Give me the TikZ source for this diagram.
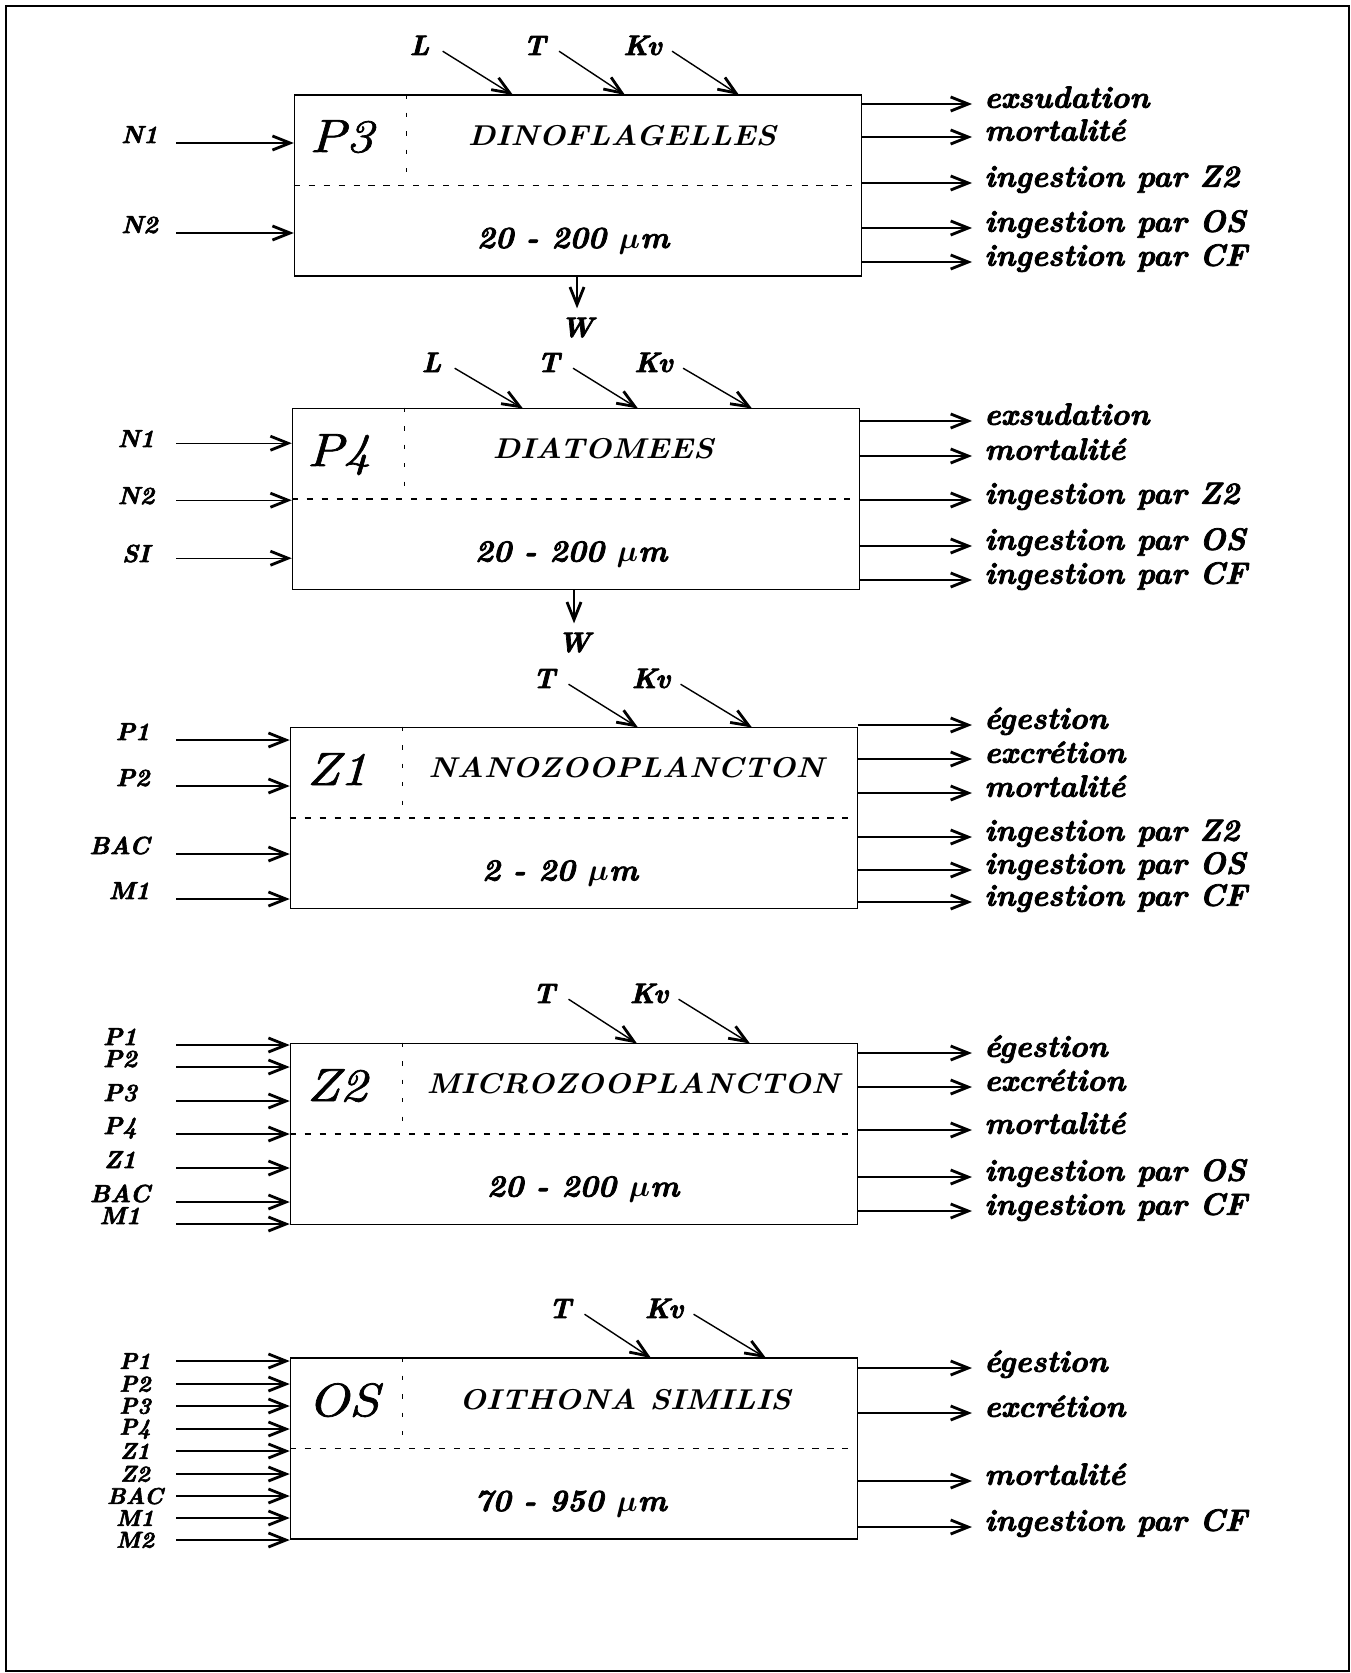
\documentclass[tikz,border=0pt]{standalone}
\usepackage{fontspec}
\usetikzlibrary{arrows.meta}
\newfontfamily\namefont[FakeStretch=1.15,FakeBold=1.5]{lmroman10-italic.otf}
\newfontfamily\groupfont[FakeStretch=1.1]{lmroman10-bolditalic.otf}
\newfontfamily\labfont[FakeBold=2.5]{lmroman10-bolditalic.otf}
\newcommand{\um}{{\boldmath$\mu$}m}

\begin{document}
\begin{tikzpicture}[
    x=0.02cm, y=-0.02cm,
    >={Straight Barb[length=10pt,width=8pt,line width=1.6pt]},
    box/.style={draw, line width=0.9pt, minimum width=11.34cm, minimum height=3.62cm, inner sep=0pt},
    midline/.style={line width=0.6pt, dash pattern=on 3.5pt off 5pt},
    colline/.style={line width=0.6pt, dash pattern=on 2.5pt off 8pt},
    flow/.style={->, line width=0.8pt},
    outflow/.style={->, line width=0.8pt, shorten >=0.24cm},
    bigname/.style={anchor=base, inner sep=0pt, font=\namefont\fontsize{26.5}{30}\selectfont},
    group/.style={anchor=base, inner sep=0pt, font=\groupfont\fontsize{16.3}{19}\selectfont},
    sizelab/.style={anchor=base, inner sep=0pt, font=\labfont\fontsize{17.5}{20}\selectfont},
    inlab/.style={anchor=base, inner sep=0pt, font=\labfont\fontsize{14}{16}\selectfont},
    toplab/.style={anchor=base, inner sep=0pt, font=\labfont\fontsize{16}{18}\selectfont},
    outlab/.style={anchor=mid west, inner sep=0pt, font=\labfont\fontsize{17.5}{20}\selectfont}
]
\useasboundingbox (0,0) rectangle (1351,1673);
\draw[line width=1.1pt] (6,6) rectangle (1349,1671);

% P3 : dinoflagelles
\node[box] (p3) at (578,185.5) {};
\draw[midline] (p3.west) -- (p3.east);
\draw[colline] ([xshift=2.25cm]p3.north west) -- ([xshift=2.25cm]p3.west);
\node[bigname] (p3name) at (341.5,152) {P3};
\node[group] (p3group) at (622,145) {DINOFLAGELLES};
\node[sizelab] (p3size) at (573,248) {20 - 200 \um};

\coordinate (p3in) at (176,0);
\node[inlab] (p3n1) at (139.5,143) {N1};
\draw[flow] (p3n1.base -| p3in) -- (p3n1.base -| p3.west);
\node[inlab] (p3n2) at (139.5,233) {N2};
\draw[flow] (p3n2.base -| p3in) -- (p3n2.base -| p3.west);

\node[toplab] (p3L) at (419.5,55) {L};
\coordinate (p3Lend) at (513,95);
\draw[flow] ([xshift=0.26cm]p3L.mid east) -- (p3Lend);
\node[toplab] (p3T) at (534.5,55) {T};
\coordinate (p3Tend) at (625,95);
\draw[flow] ([xshift=0.26cm]p3T.mid east) -- (p3Tend);
\node[toplab] (p3K) at (642.5,55) {Kv};
\coordinate (p3Kend) at (739,95);
\draw[flow] ([xshift=0.2cm]p3K.mid east) -- (p3Kend);

\node[outlab] (p3o1) at (984,104) {exsudation};
\draw[outflow] (p3o1.mid west -| p3.east) -- (p3o1.mid west);
\node[outlab] (p3o2) at (984,137) {mortalité};
\draw[outflow] (p3o2.mid west -| p3.east) -- (p3o2.mid west);
\node[outlab] (p3o3) at (984,183) {ingestion par Z2};
\draw[outflow] (p3o3.mid west -| p3.east) -- (p3o3.mid west);
\node[outlab] (p3o4) at (984,228) {ingestion par OS};
\draw[outflow] (p3o4.mid west -| p3.east) -- (p3o4.mid west);
\node[outlab] (p3o5) at (984,262) {ingestion par CF};
\draw[outflow] (p3o5.mid west -| p3.east) -- (p3o5.mid west);

\node[toplab] (p3w) at (577,337) {W};
\draw[flow, shorten >=0.18cm] (p3.south -| p3w) -- (p3w.north);

% P4 : diatomees
\node[box] (p4) at (576,499) {};
\draw[midline] (p4.west) -- (p4.east);
\draw[colline] ([xshift=2.25cm]p4.north west) -- ([xshift=2.25cm]p4.west);
\node[bigname] (p4name) at (339,466) {P4};
\node[group] (p4group) at (603,458.5) {DIATOMEES};
\node[sizelab] (p4size) at (571,561.5) {20 - 200 \um};

\coordinate (p4in) at (176,0);
\node[inlab] (p4n1) at (136,447) {N1};
\draw[flow] (p4n1.mid -| p4in) -- (p4n1.mid -| p4.west);
\node[inlab] (p4n2) at (136,504) {N2};
\draw[flow] (p4n2.mid -| p4in) -- (p4n2.mid -| p4.west);
\node[inlab] (p4n3) at (136,562) {SI};
\draw[flow] (p4n3.mid -| p4in) -- (p4n3.mid -| p4.west);

\node[toplab] (p4L) at (431.5,372) {L};
\coordinate (p4Lend) at (523,408.5);
\draw[flow] ([xshift=0.26cm]p4L.mid east) -- (p4Lend);
\node[toplab] (p4T) at (548.5,372) {T};
\coordinate (p4Tend) at (638,408.5);
\draw[flow] ([xshift=0.26cm]p4T.mid east) -- (p4Tend);
\node[toplab] (p4K) at (653.5,372) {Kv};
\coordinate (p4Kend) at (752,408.5);
\draw[flow] ([xshift=0.2cm]p4K.mid east) -- (p4Kend);

\node[outlab] (p4o1) at (984,421) {exsudation};
\draw[outflow] (p4o1.mid west -| p4.east) -- (p4o1.mid west);
\node[outlab] (p4o2) at (984,456) {mortalité};
\draw[outflow] (p4o2.mid west -| p4.east) -- (p4o2.mid west);
\node[outlab] (p4o3) at (984,500) {ingestion par Z2};
\draw[outflow] (p4o3.mid west -| p4.east) -- (p4o3.mid west);
\node[outlab] (p4o4) at (984,546) {ingestion par OS};
\draw[outflow] (p4o4.mid west -| p4.east) -- (p4o4.mid west);
\node[outlab] (p4o5) at (984,580) {ingestion par CF};
\draw[outflow] (p4o5.mid west -| p4.east) -- (p4o5.mid west);

\node[toplab] (p4w) at (574,652) {W};
\draw[flow, shorten >=0.18cm] (p4.south -| p4w) -- (p4w.north);

% Z1 : nanozooplancton
\node[box] (z1) at (574,818) {};
\draw[midline] (z1.west) -- (z1.east);
\draw[colline] ([xshift=2.25cm]z1.north west) -- ([xshift=2.25cm]z1.west);
\node[bigname] (z1name) at (337,785) {Z1};
\node[group] (z1group) at (626,777.5) {NANOZOOPLANCTON};
\node[sizelab] (z1size) at (560,880.5) {2 - 20 \um};

\coordinate (z1in) at (176,0);
\node[inlab, anchor=base east] (z1n1) at (150,740) {P1};
\draw[flow] (z1n1.base -| z1in) -- (z1n1.base -| z1.west);
\node[inlab, anchor=base east] (z1n2) at (150,786) {P2};
\draw[flow] (z1n2.base -| z1in) -- (z1n2.base -| z1.west);
\node[inlab, anchor=base east] (z1n3) at (150,854) {BAC};
\draw[flow] (z1n3.base -| z1in) -- (z1n3.base -| z1.west);
\node[inlab, anchor=base east] (z1n4) at (150,899) {M1};
\draw[flow] (z1n4.base -| z1in) -- (z1n4.base -| z1.west);

\node[toplab] (z1T) at (544,688) {T};
\coordinate (z1Tend) at (638,727.5);
\draw[flow] ([xshift=0.26cm]z1T.mid east) -- (z1Tend);
\node[toplab] (z1K) at (651,688) {Kv};
\coordinate (z1Kend) at (752,727.5);
\draw[flow] ([xshift=0.2cm]z1K.mid east) -- (z1Kend);

\node[outlab] (z1o1) at (984,725) {égestion};
\draw[outflow] (z1o1.mid west -| z1.east) -- (z1o1.mid west);
\node[outlab] (z1o2) at (984,759) {excrétion};
\draw[outflow] (z1o2.mid west -| z1.east) -- (z1o2.mid west);
\node[outlab] (z1o3) at (984,793) {mortalité};
\draw[outflow] (z1o3.mid west -| z1.east) -- (z1o3.mid west);
\node[outlab] (z1o4) at (984,837) {ingestion par Z2};
\draw[outflow] (z1o4.mid west -| z1.east) -- (z1o4.mid west);
\node[outlab] (z1o5) at (984,870) {ingestion par OS};
\draw[outflow] (z1o5.mid west -| z1.east) -- (z1o5.mid west);
\node[outlab] (z1o6) at (984,902) {ingestion par CF};
\draw[outflow] (z1o6.mid west -| z1.east) -- (z1o6.mid west);

% Z2 : microzooplancton
\node[box] (z2) at (574,1134) {};
\draw[midline] (z2.west) -- (z2.east);
\draw[colline] ([xshift=2.25cm]z2.north west) -- ([xshift=2.25cm]z2.west);
\node[bigname] (z2name) at (337,1101) {Z2};
\node[group] (z2group) at (633,1093.5) {MICROZOOPLANCTON};
\node[sizelab] (z2size) at (583,1196.5) {20 - 200 \um};

\coordinate (z2in) at (176,0);
\node[inlab] (z2n1) at (120,1045) {P1};
\draw[flow] (z2n1.base -| z2in) -- (z2n1.base -| z2.west);
\node[inlab] (z2n2) at (120,1067) {P2};
\draw[flow] (z2n2.base -| z2in) -- (z2n2.base -| z2.west);
\node[inlab] (z2n3) at (120,1101) {P3};
\draw[flow] (z2n3.base -| z2in) -- (z2n3.base -| z2.west);
\node[inlab] (z2n4) at (120,1134) {P4};
\draw[flow] (z2n4.base -| z2in) -- (z2n4.base -| z2.west);
\node[inlab] (z2n5) at (120,1168) {Z1};
\draw[flow] (z2n5.base -| z2in) -- (z2n5.base -| z2.west);
\node[inlab] (z2n6) at (120,1202) {BAC};
\draw[flow] (z2n6.base -| z2in) -- (z2n6.base -| z2.west);
\node[inlab] (z2n7) at (120,1224) {M1};
\draw[flow] (z2n7.base -| z2in) -- (z2n7.base -| z2.west);

\node[toplab] (z2T) at (544,1003) {T};
\coordinate (z2Tend) at (637,1043.5);
\draw[flow] ([xshift=0.26cm]z2T.mid east) -- (z2Tend);
\node[toplab] (z2K) at (649,1003) {Kv};
\coordinate (z2Kend) at (750,1043.5);
\draw[flow] ([xshift=0.2cm]z2K.mid east) -- (z2Kend);

\node[outlab] (z2o1) at (984,1053) {égestion};
\draw[outflow] (z2o1.mid west -| z2.east) -- (z2o1.mid west);
\node[outlab] (z2o2) at (984,1087) {excrétion};
\draw[outflow] (z2o2.mid west -| z2.east) -- (z2o2.mid west);
\node[outlab] (z2o3) at (984,1130) {mortalité};
\draw[outflow] (z2o3.mid west -| z2.east) -- (z2o3.mid west);
\node[outlab] (z2o4) at (984,1177) {ingestion par OS};
\draw[outflow] (z2o4.mid west -| z2.east) -- (z2o4.mid west);
\node[outlab] (z2o5) at (984,1211) {ingestion par CF};
\draw[outflow] (z2o5.mid west -| z2.east) -- (z2o5.mid west);

% OS : oithona similis
\node[box] (os) at (574,1448.5) {};
\draw[midline] (os.west) -- (os.east);
\draw[colline] ([xshift=2.25cm]os.north west) -- ([xshift=2.25cm]os.west);
\node[bigname] (osname) at (343.5,1416) {OS};
\node[group] (osgroup) at (625,1409) {OITHONA SIMILIS};
\node[sizelab] (ossize) at (570.5,1511) {70 - 950 \um};

\coordinate (osin) at (176,0);
\node[inlab, anchor=center, font=\labfont\fontsize{13}{15}\selectfont] (osn1) at (135,1361) {P1};
\draw[flow] (osn1.center -| osin) -- (osn1.center -| os.west);
\node[inlab, anchor=center, font=\labfont\fontsize{13}{15}\selectfont] (osn2) at (135,1384) {P2};
\draw[flow] (osn2.center -| osin) -- (osn2.center -| os.west);
\node[inlab, anchor=center, font=\labfont\fontsize{13}{15}\selectfont] (osn3) at (135,1406) {P3};
\draw[flow] (osn3.center -| osin) -- (osn3.center -| os.west);
\node[inlab, anchor=center, font=\labfont\fontsize{13}{15}\selectfont] (osn4) at (135,1429) {P4};
\draw[flow] (osn4.center -| osin) -- (osn4.center -| os.west);
\node[inlab, anchor=center, font=\labfont\fontsize{13}{15}\selectfont] (osn5) at (135,1451) {Z1};
\draw[flow] (osn5.center -| osin) -- (osn5.center -| os.west);
\node[inlab, anchor=center, font=\labfont\fontsize{13}{15}\selectfont] (osn6) at (135,1474) {Z2};
\draw[flow] (osn6.center -| osin) -- (osn6.center -| os.west);
\node[inlab, anchor=center, font=\labfont\fontsize{13}{15}\selectfont] (osn7) at (135,1496) {BAC};
\draw[flow] (osn7.center -| osin) -- (osn7.center -| os.west);
\node[inlab, anchor=center, font=\labfont\fontsize{13}{15}\selectfont] (osn8) at (135,1518) {M1};
\draw[flow] (osn8.center -| osin) -- (osn8.center -| os.west);
\node[inlab, anchor=center, font=\labfont\fontsize{13}{15}\selectfont] (osn9) at (135,1540) {M2};
\draw[flow] (osn9.center -| osin) -- (osn9.center -| os.west);

\node[toplab] (osT) at (560,1318) {T};
\coordinate (osTend) at (651,1358);
\draw[flow] ([xshift=0.26cm]osT.mid east) -- (osTend);
\node[toplab] (osK) at (664,1318) {Kv};
\coordinate (osKend) at (766,1358);
\draw[flow] ([xshift=0.2cm]osK.mid east) -- (osKend);

\node[outlab] (oso1) at (984,1368) {égestion};
\draw[outflow] (oso1.mid west -| os.east) -- (oso1.mid west);
\node[outlab] (oso2) at (984,1413) {excrétion};
\draw[outflow] (oso2.mid west -| os.east) -- (oso2.mid west);
\node[outlab] (oso3) at (984,1481) {mortalité};
\draw[outflow] (oso3.mid west -| os.east) -- (oso3.mid west);
\node[outlab] (oso4) at (984,1527) {ingestion par CF};
\draw[outflow] (oso4.mid west -| os.east) -- (oso4.mid west);
\end{tikzpicture}
\end{document}
